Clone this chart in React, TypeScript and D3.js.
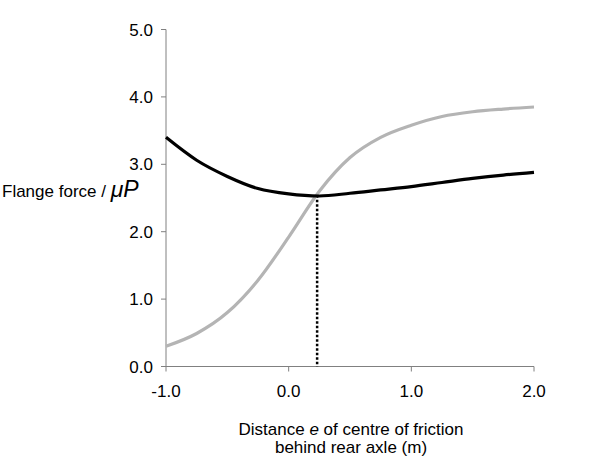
import React from "react";
import * as d3 from "d3";

const eValues = [-1, -0.75, -0.5, -0.25, 0, 0.25, 0.5, 0.75, 1.0, 1.25, 1.5, 1.75, 2.0];
const blackSeries = [3.4, 3.06, 2.82, 2.64, 2.56, 2.53, 2.57, 2.62, 2.67, 2.73, 2.79, 2.84, 2.88];
const graySeries = [0.3, 0.49, 0.8, 1.28, 1.92, 2.6, 3.1, 3.4, 3.58, 3.71, 3.78, 3.82, 3.85];
const crossing = { e: 0.232, v: 2.54 };
const xTicks = [-1, 0, 1, 2];
const yTicks = [0, 1, 2, 3, 4, 5];

const W = 590;
const H = 457;
const left = 166, right = 534, top = 29.5, bottom = 366.5;

export default function App() {
  const x = d3.scaleLinear().domain([-1, 2]).range([left, right]);
  const y = d3.scaleLinear().domain([0, 5]).range([bottom, top]);
  const line = d3
    .line<number>()
    .x((_, i) => x(eValues[i]))
    .y((d) => y(d))
    .curve(d3.curveMonotoneX);
  const font = "'Liberation Sans', Arial, sans-serif";
  return (
    <div style={{ position: "absolute", left: 0, top: 0 }}>
      <svg width={W} height={H} style={{ display: "block", background: "#fff" }}>
        <rect width={W} height={H} fill="#fff" />
        <line x1={left} x2={left} y1={y(5)} y2={y(0)} stroke="#808080" strokeWidth={1} />
        <line x1={left} x2={right} y1={y(0)} y2={y(0)} stroke="#808080" strokeWidth={1} />
        {yTicks.map((t) => (
          <g key={"y" + t}>
            <line x1={left - 5} x2={left} y1={y(t)} y2={y(t)} stroke="#808080" strokeWidth={1} />
            <text x={153} y={y(t) + 6} textAnchor="end" fontFamily={font} fontSize={17} fill="#000">
              {t.toFixed(1)}
            </text>
          </g>
        ))}
        {xTicks.map((t) => (
          <g key={"x" + t}>
            <line x1={x(t)} x2={x(t)} y1={y(0)} y2={y(0) + 5} stroke="#808080" strokeWidth={1} />
            <text x={x(t)} y={397} textAnchor="middle" fontFamily={font} fontSize={17} fill="#000">
              {t.toFixed(1)}
            </text>
          </g>
        ))}
        <line
          x1={x(crossing.e)}
          x2={x(crossing.e)}
          y1={y(crossing.v)}
          y2={y(0)}
          stroke="#000"
          strokeWidth={2.5}
          strokeDasharray="2.5,2"
        />
        <path d={line(graySeries) || ""} fill="none" stroke="#b4b4b4" strokeWidth={3.2} />
        <path d={line(blackSeries) || ""} fill="none" stroke="#000" strokeWidth={3.2} />
        <text x={2} y={197} fontFamily={font} fontSize={17} fill="#000">
          Flange force /{" "}
          <tspan fontStyle="italic" fontSize={23}>
            μP
          </tspan>
        </text>
        <text x={351} y={435} textAnchor="middle" fontFamily={font} fontSize={17} fill="#000">
          Distance <tspan fontStyle="italic">e</tspan> of centre of friction
        </text>
        <text x={351} y={453} textAnchor="middle" fontFamily={font} fontSize={17} fill="#000">
          behind rear axle (m)
        </text>
      </svg>
    </div>
  );
}
